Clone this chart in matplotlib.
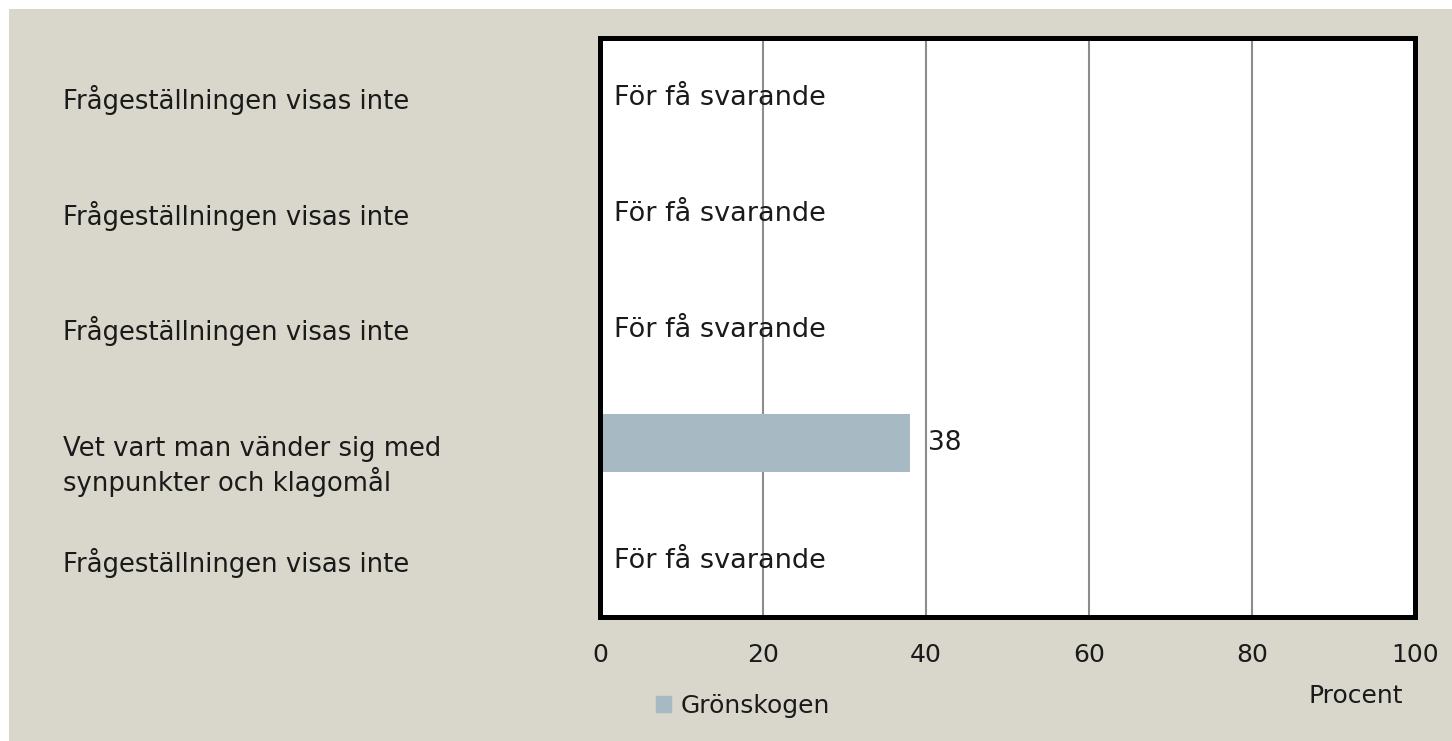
import matplotlib
matplotlib.use('Agg')
from matplotlib import pyplot as plt
from matplotlib.patches import Rectangle, Patch
import matplotlib.transforms as mtransforms

categories = ['Frågeställningen visas inte',
              'Frågeställningen visas inte',
              'Frågeställningen visas inte',
              'Vet vart man vänder sig med\nsynpunkter och klagomål',
              'Frågeställningen visas inte']
values = [None, None, None, 38, None]
series_name = 'Grönskogen'
no_data_text = 'För få svarande'
xticks = [0, 20, 40, 60, 80, 100]

bg = '#d9d7cb'
bar_color = '#a7bac4'
txt = '#1a1a1a'
plt.rcParams['font.family'] = ['DejaVu Sans']

W, H = 1452, 741
fig = plt.figure(figsize=(W / 100, H / 100), dpi=100, facecolor='white')
fig.patches.append(Rectangle((9 / W, 0), 1 - 9 / W, 1 - 9 / H, transform=fig.transFigure,
                             facecolor=bg, edgecolor='none', zorder=-10))

ax = fig.add_axes([600 / W, 1 - 617 / H, (1415 - 600) / W, (617 - 38) / H])
ax.set_facecolor('white')
ax.set_xlim(0, 100)
ax.set_ylim(len(categories) - 0.5, -0.5)

for x in xticks[1:-1]:
    ax.axvline(x, color='#8c8c8c', lw=1.5, zorder=1)

for i, v in enumerate(values):
    if v is None:
        ax.text(1.7, i + 0.02, no_data_text, va='center', ha='left', fontsize=19.5,
                color=txt, zorder=3)
    else:
        ax.barh(i, v, height=0.5, color=bar_color, zorder=2)
        ax.text(v + 2.2, i, str(v), va='center', ha='left', fontsize=19,
                color=txt, zorder=3)

# category labels, left aligned at the left edge of the chart
trans = mtransforms.blended_transform_factory(fig.transFigure, ax.transData)
for i, lab in enumerate(categories):
    for k, line in enumerate(lab.split('\n')):
        tr = mtransforms.offset_copy(trans, fig=fig, y=-(13 + 35 * k) * 0.72, units='points')
        ax.text(63 / W, i, line, transform=tr, va='baseline', ha='left',
                fontsize=18.6, color=txt)

ax.set_yticks([])
ax.set_xticks(xticks)
ax.tick_params(axis='x', length=0, pad=19, labelsize=18, labelcolor=txt)
for s in ax.spines.values():
    s.set_linewidth(3.6)
    s.set_color('black')

fig.text(1356 / W, 1 - 696 / H, 'Procent', ha='center', va='center', fontsize=18, color=txt)
fig.legend(handles=[Patch(color=bar_color, label=series_name)], loc='center',
           bbox_to_anchor=(743 / W, 1 - 706 / H), frameon=False, fontsize=18,
           handlelength=0.6, handleheight=0.6, handletextpad=0.35, labelcolor=txt)

fig.savefig('out.png', dpi=100, facecolor=fig.get_facecolor())
